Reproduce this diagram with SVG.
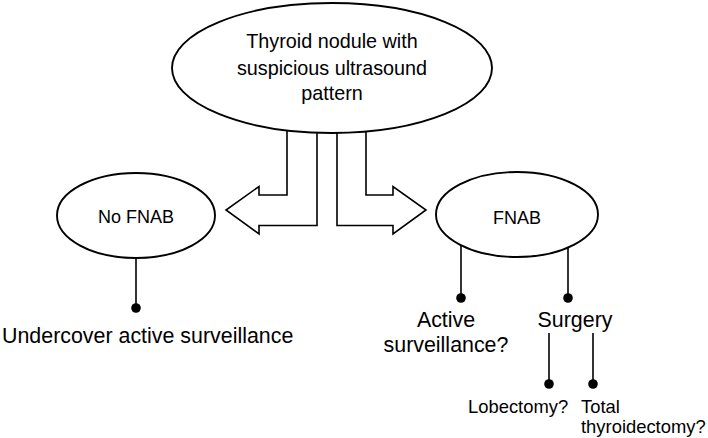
<svg xmlns="http://www.w3.org/2000/svg" width="708" height="438" viewBox="0 0 708 438">
<style>
.node{fill:#fff;stroke:#000;stroke-width:1.9}
.arrow{fill:#fff;stroke:#000;stroke-width:1.6;stroke-linejoin:miter}
.line{stroke:#000;stroke-width:1.6;fill:none}
.dot{fill:#000}
.t1{font-family:"Liberation Sans",Arial,sans-serif;font-size:19.8px;fill:#000;text-anchor:middle}
.t2{font-family:"Liberation Sans",Arial,sans-serif;font-size:18px;fill:#000;text-anchor:middle}
.t3{font-family:"Liberation Sans",Arial,sans-serif;font-size:21.4px;fill:#000}
.t4{font-family:"Liberation Sans",Arial,sans-serif;font-size:18.4px;fill:#000}
</style>
<rect width="708" height="438" fill="#fff"/>
<g id="connectors">
<polygon class="arrow" points="287,110 287,195 259,195 259,186.5 226,210 259,234 259,225.5 317,225.5 317,110"/>
<polygon class="arrow" points="337,110 337,225.5 393,225.5 393,234 426,210 393,186.5 393,195 366,195 366,110"/>
<line class="line" x1="136" y1="258" x2="136" y2="308"/>
<circle class="dot" cx="136" cy="308" r="4.8"/>
<line class="line" x1="461" y1="245" x2="461" y2="298"/>
<circle class="dot" cx="461" cy="298" r="4.8"/>
<line class="line" x1="568" y1="247" x2="568" y2="298"/>
<circle class="dot" cx="568" cy="298" r="4.8"/>
<line class="line" x1="549" y1="333" x2="549" y2="384"/>
<circle class="dot" cx="549" cy="384" r="4.8"/>
<line class="line" x1="593" y1="333" x2="593" y2="384"/>
<circle class="dot" cx="593" cy="384" r="4.8"/>
</g>
<g id="root">
<ellipse class="node" cx="332" cy="68" rx="160" ry="65"/>
<text class="t1" x="332" y="48">Thyroid nodule with</text>
<text class="t1" x="332" y="74.5">suspicious ultrasound</text>
<text class="t1" x="332" y="100">pattern</text>
</g>
<g id="no-fnab">
<ellipse class="node" cx="136" cy="215.5" rx="79" ry="42.5"/>
<text class="t2" x="136" y="223">No FNAB</text>
</g>
<g id="fnab">
<ellipse class="node" cx="517" cy="214.5" rx="81" ry="42.5"/>
<text class="t2" x="517" y="224">FNAB</text>
</g>
<g id="undercover">
<text class="t3" x="2" y="343">Undercover active surveillance</text>
</g>
<g id="active">
<text class="t3" x="446" y="327" text-anchor="middle">Active</text>
<text class="t3" x="446" y="352" text-anchor="middle">surveillance?</text>
</g>
<g id="surgery">
<text class="t3" x="575" y="327" text-anchor="middle">Surgery</text>
</g>
<g id="lobectomy">
<text class="t4" x="468" y="413">Lobectomy?</text>
</g>
<g id="total">
<text class="t4" x="581" y="413">Total</text>
<text class="t4" x="581" y="433">thyroidectomy?</text>
</g>
</svg>
